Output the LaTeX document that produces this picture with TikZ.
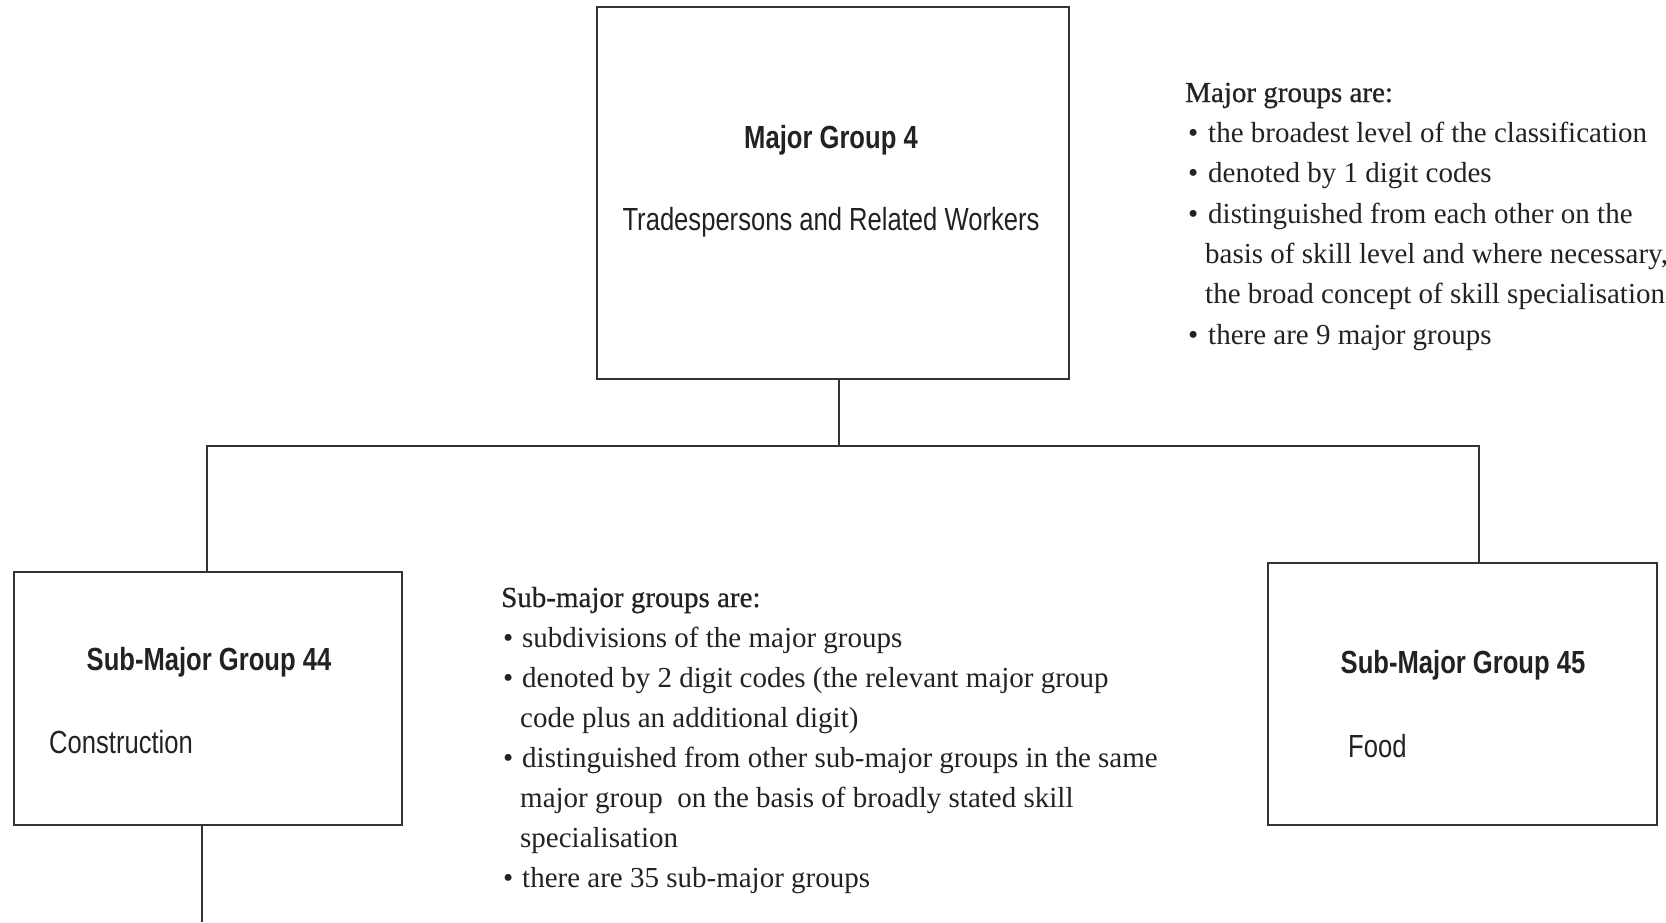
\documentclass[tikz,border=0pt]{standalone}
\usepackage{fontspec}
\setmainfont{Liberation Serif}
\newfontfamily\condsans[FakeStretch=0.8]{Liberation Sans}
\newfontfamily\headserif[FakeBold=0.7]{Liberation Serif}
\definecolor{linegray}{HTML}{333333}
\definecolor{textdark}{HTML}{222222}
\newcommand\bul[1]{\makebox[#1][l]{\textbullet}}
\begin{document}
\begin{tikzpicture}[x=1pt,y=-1pt,
  grpbox/.style={draw=linegray, line width=1.8pt, inner sep=0pt},
  conn/.style={draw=linegray, line width=1.6pt},
  ttl/.style={font=\condsans\bfseries\fontsize{32}{38}\selectfont, text=textdark, inner sep=0pt, anchor=base},
  sub/.style={font=\condsans\fontsize{32}{38}\selectfont, text=textdark, inner sep=0pt},
  note/.style={font=\fontsize{29}{40}\selectfont, text=textdark, inner sep=0pt, anchor=base west},
  notehead/.style={note, font=\headserif\fontsize{29}{40}\selectfont}]
\useasboundingbox (0,0) rectangle (1666,922);

% boxes
\node[grpbox, minimum width=472pt, minimum height=372pt] (major) at (833,193) {};
\node[grpbox, minimum width=388pt, minimum height=253pt] (left) at (208,698.5) {};
\node[grpbox, minimum width=389pt, minimum height=262pt] (right) at (1462.5,694) {};

% box texts
\node[ttl] (majt) at (831,148) {Major Group 4};
\node[sub, anchor=base] (majs) at (831,230) {Tradespersons and Related Workers};
\node[ttl] (leftt) at (209,670) {Sub-Major Group 44};
\node[sub, anchor=base west] (lefts) at (49,753) {Construction};
\node[ttl] (rightt) at (1463,673) {Sub-Major Group 45};
\node[sub, anchor=base west] (rights) at (1348,757) {Food};

% connectors
\coordinate (j) at (839,446);
\coordinate (jl) at (207,446);
\coordinate (jr) at (1479,446);
\coordinate (down) at (202,922);
\draw[conn] (major.south -| j) -- (j);
\draw[conn] (jl |- left.north) -- (jl) -- (jr) -- (jr |- right.north);
\draw[conn] (left.south -| down) -- (down);

% right notes
\node[notehead] (m0) at (1185,102) {Major groups are:};
\node[note] (m1) at (1188,142) {\bul{20pt}the broadest level of the classification};
\node[note] (m2) at (1188,182) {\bul{20pt}denoted by 1 digit codes};
\node[note] (m3) at (1188,223) {\bul{20pt}distinguished from each other on the};
\node[note] (m4) at (1205,263) {basis of skill level and where necessary,};
\node[note] (m5) at (1205,303) {the broad concept of skill specialisation};
\node[note] (m6) at (1188,344) {\bul{20pt}there are 9 major groups};

% middle notes
\node[notehead] (s0) at (501,607) {Sub-major groups are:};
\node[note] (s1) at (503,647) {\bul{19pt}subdivisions of the major groups};
\node[note] (s2) at (503,687) {\bul{19pt}denoted by 2 digit codes (the relevant major group};
\node[note] (s3) at (520,727) {code plus an additional digit)};
\node[note] (s4) at (503,767) {\bul{19pt}distinguished from other sub-major groups in the same};
\node[note] (s5) at (520,807) {major group\ \ on the basis of broadly stated skill};
\node[note] (s6) at (520,847) {specialisation};
\node[note] (s7) at (503,887) {\bul{19pt}there are 35 sub-major groups};
\end{tikzpicture}
\end{document}
